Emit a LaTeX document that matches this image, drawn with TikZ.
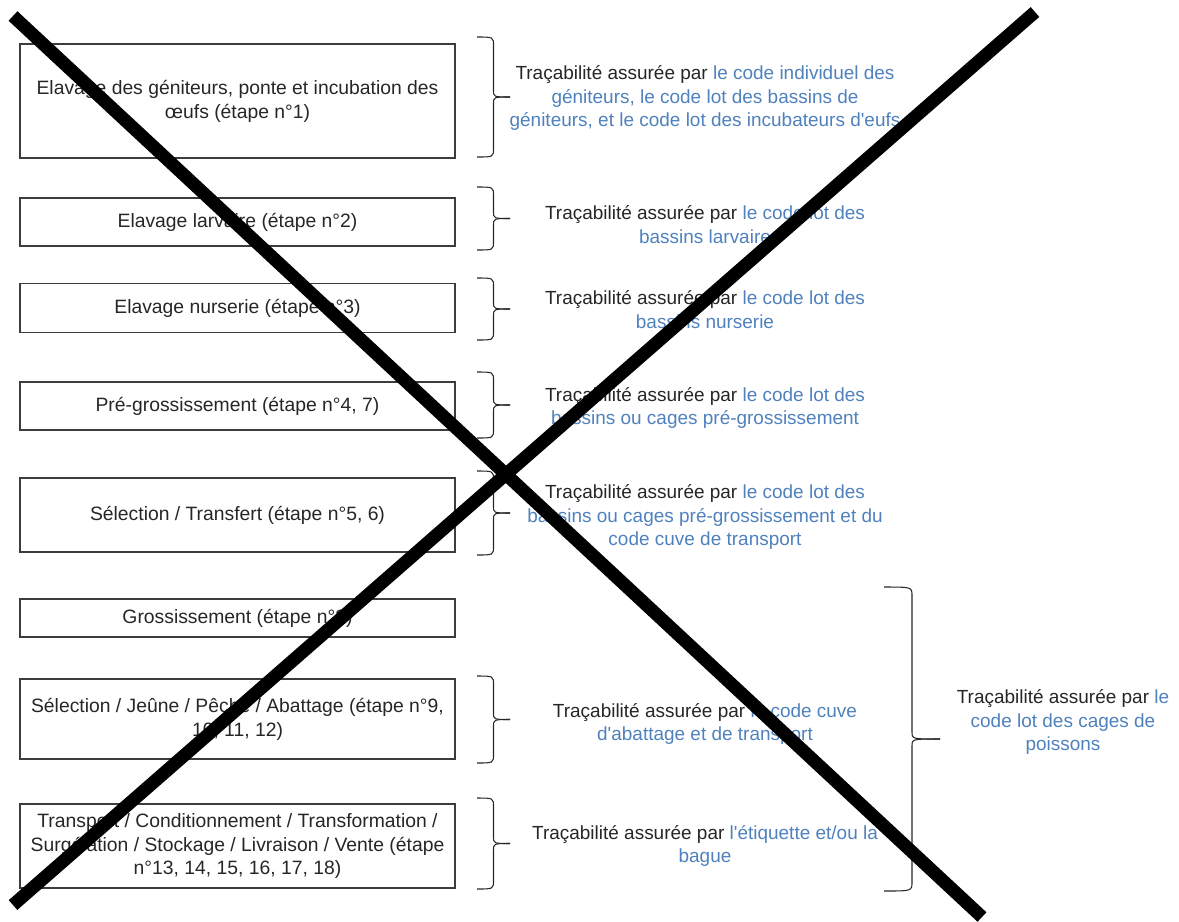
\documentclass[tikz,border=0pt]{standalone}
\usepackage{fontspec}
\setmainfont{Liberation Sans}
\definecolor{codeblue}{RGB}{79,129,189}
\definecolor{boxgray}{RGB}{60,60,60}
\tikzset{
  etape/.style={draw=boxgray, line width=0.8pt, minimum width=8.7cm, align=center, inner sep=2pt, text=black!85, font=\fontsize{11}{13.6}\selectfont}, % the steps on the left
  trace/.style={align=center, text=codeblue, font=\fontsize{10.8}{13.6}\selectfont}, % the texts on the right
  accolade/.style={line width=0.6pt, black!85},
  croix/.style={line width=7.4pt},
}
\newcommand{\assure}{{\color{black!85}Traçabilité assurée par} }
\newcommand{\apos}{\textquotesingle{}}
% bracket with a pointer: x, top, bottom, depth
\newcommand{\crochet}[4]{%
  \draw[accolade] (#1,#2) .. controls ({#1+0.5*#4},#2) .. ({#1+0.5*#4},{#2+9})
    -- ({#1+0.5*#4},{(#2+#3)/2-7}) .. controls ({#1+0.5*#4},{(#2+#3)/2}) .. ({#1+#4},{(#2+#3)/2});
  \draw[accolade] (#1,#3) .. controls ({#1+0.5*#4},#3) .. ({#1+0.5*#4},{#3-9})
    -- ({#1+0.5*#4},{(#2+#3)/2+7}) .. controls ({#1+0.5*#4},{(#2+#3)/2}) .. ({#1+#4},{(#2+#3)/2});
}

\begin{document}
\begin{tikzpicture}[x=0.02cm, y=-0.02cm]
  \useasboundingbox (0,0) rectangle (1179,921);

  % steps
  \node[etape, minimum height=2.28cm] (e1) at (237.5,101) {Elavage des géniteurs, ponte et incubation des\\œufs (étape n°1)};
  \node[etape, minimum height=0.96cm] (e2) at (237.5,222) {Elavage larvaire (étape n°2)};
  \node[etape, minimum height=0.98cm] (e3) at (237.5,308) {Elavage nurserie (étape n°3)};
  \node[etape, minimum height=0.96cm] (e4) at (237.5,406) {Pré-grossissement (étape n°4, 7)};
  \node[etape, minimum height=1.48cm] (e5) at (237.5,515) {Sélection / Transfert (étape n°5, 6)};
  \node[etape, minimum height=0.76cm] (e6) at (237.5,618) {Grossissement (étape n°8)};
  \node[etape, minimum height=1.6cm] (e7) at (237.5,719) {Sélection / Jeûne / Pêche / Abattage (étape n°9,\\10, 11, 12)};
  \node[etape, minimum height=1.68cm] (e8) at (237.5,846) {Transport / Conditionnement / Transformation /\\Surgélation / Stockage / Livraison / Vente (étape\\n°13, 14, 15, 16, 17, 18)};

  % traceability
  \node[trace] (t1) at (705,98) {\assure le code individuel des\\géniteurs, le code lot des bassins de\\géniteurs, et le code lot des incubateurs d\apos eufs};
  \node[trace] (t2) at (705,225) {\assure le code lot des\\bassins larvaire};
  \node[trace] (t3) at (705,310) {\assure le code lot des\\bassins nurserie};
  \node[trace] (t4) at (705,408) {\assure le code lot des\\bassins ou cages pré-grossissement};
  \node[trace] (t5) at (705,517) {\assure le code lot des\\bassins ou cages pré-grossissement et du\\code cuve de transport};
  \node[trace] (t7) at (705,724) {\assure le code cuve\\d\apos abattage et de transport};
  \node[trace] (t8) at (705,846) {\assure l\apos étiquette et/ou la\\bague};
  \node[trace] (t9) at (1063,722) {\assure le\\code lot des cages de\\poissons};

  % braces
  \crochet{477}{37}{157}{33}
  \crochet{477}{187}{250}{33}
  \crochet{477}{278}{340}{33}
  \crochet{477}{372}{438}{33}
  \crochet{477}{471}{555}{33}
  \crochet{477}{676}{763}{33}
  \crochet{477}{798}{889}{33}
  \crochet{884}{587}{891}{56}

  % the cross
  \coordinate (hg) at (13,16);
  \coordinate (bd) at (982,917);
  \coordinate (bg) at (13,905);
  \coordinate (hd) at (1035,12);
  \draw[croix] (hg) -- (bd);
  \draw[croix] (bg) -- (hd);
\end{tikzpicture}
\end{document}
